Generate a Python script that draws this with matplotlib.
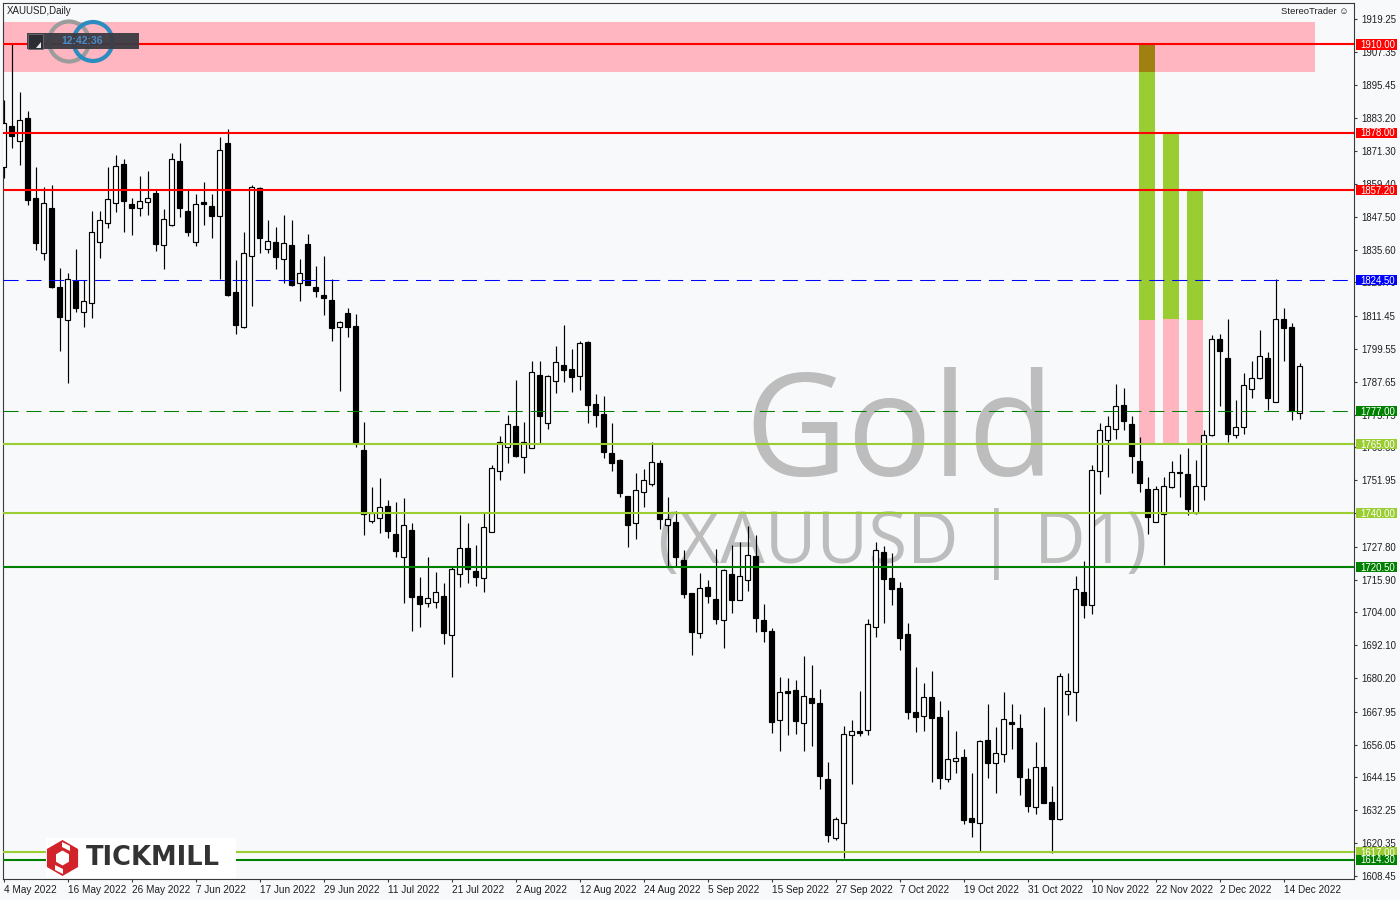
import numpy as np
import matplotlib
matplotlib.use("Agg")
import matplotlib.pyplot as plt
from matplotlib.patches import Rectangle, Circle, RegularPolygon, Polygon
from matplotlib.transforms import blended_transform_factory

plt.rcParams['font.family'] = ['Liberation Sans', 'DejaVu Sans']

# XAUUSD daily candles, 4 May 2022 .. 16 Dec 2022
opens = [1865.7, 1880.4, 1875.1, 1883.3, 1854.3, 1834.5, 1850.7, 1821.9, 1809.9, 1824.1,
         1812.8, 1816.1, 1838.5, 1845.4, 1852.4, 1866.5, 1852.0, 1850.6, 1852.7, 1856.0,
         1837.1, 1844.6, 1867.7, 1849.6, 1838.5, 1852.7, 1851.4, 1847.7, 1874.1, 1820.2,
         1807.6, 1833.3, 1857.8, 1835.7, 1838.2, 1832.1, 1837.3, 1823.4, 1837.6, 1822.0,
         1819.1, 1817.3, 1807.4, 1812.5, 1807.9, 1762.9, 1737.3, 1738.1, 1742.6, 1732.5,
         1724.2, 1733.9, 1709.9, 1707.6, 1707.7, 1709.9, 1695.7, 1717.8, 1727.3, 1719.0,
         1716.4, 1733.1, 1755.4, 1763.9, 1771.6, 1760.5, 1763.8, 1790.1, 1772.8, 1787.8,
         1793.8, 1792.3, 1789.6, 1802.1, 1779.5, 1776.0, 1761.7, 1759.3, 1746.2, 1736.3,
         1747.6, 1750.5, 1758.1, 1735.6, 1736.7, 1722.9, 1711.1, 1696.4, 1713.2, 1708.9,
         1701.4, 1718.0, 1708.4, 1715.6, 1724.5, 1701.3, 1697.3, 1664.9, 1675.4, 1675.9,
         1664.0, 1673.0, 1671.2, 1643.6, 1622.1, 1627.5, 1659.7, 1660.9, 1661.5, 1698.8,
         1725.9, 1716.4, 1712.7, 1696.1, 1667.8, 1666.3, 1673.3, 1666.1, 1643.7, 1650.0,
         1651.6, 1629.4, 1627.5, 1657.6, 1649.5, 1652.8, 1664.3, 1662.1, 1643.5, 1633.3,
         1647.8, 1635.4, 1629.2, 1674.3, 1675.0, 1711.4, 1706.6, 1755.2, 1766.5, 1770.5,
         1779.1, 1772.2, 1759.0, 1748.8, 1736.8, 1739.8, 1749.5, 1754.5, 1754.1, 1740.0,
         1749.7, 1768.3, 1803.1, 1796.2, 1768.3, 1771.2, 1784.9, 1789.2, 1796.2, 1780.2,
         1810.6, 1807.5, 1776.3]
highs = [1889.8, 1910.5, 1892.7, 1885.9, 1865.4, 1858.2, 1858.9, 1828.8, 1827.0, 1836.0,
         1824.6, 1849.6, 1849.6, 1865.4, 1869.9, 1868.4, 1854.5, 1862.2, 1864.1, 1857.2,
         1850.2, 1870.5, 1874.2, 1857.4, 1855.8, 1860.1, 1855.8, 1876.4, 1879.2, 1831.8,
         1842.0, 1859.0, 1858.4, 1846.3, 1843.8, 1848.1, 1846.3, 1832.2, 1841.2, 1829.6,
         1833.3, 1824.9, 1809.7, 1814.4, 1812.3, 1773.1, 1749.6, 1752.6, 1744.8, 1744.2,
         1745.4, 1736.6, 1717.0, 1724.0, 1718.7, 1714.6, 1720.4, 1739.3, 1736.6, 1728.5,
         1740.0, 1757.6, 1768.0, 1775.6, 1788.3, 1773.2, 1795.2, 1795.2, 1790.1, 1800.6,
         1808.3, 1799.6, 1802.3, 1802.5, 1783.1, 1782.5, 1772.6, 1759.8, 1746.2, 1754.5,
         1756.0, 1765.7, 1759.3, 1746.0, 1740.9, 1726.6, 1711.2, 1718.2, 1715.8, 1726.9,
         1719.8, 1728.5, 1729.4, 1735.4, 1732.1, 1707.1, 1698.2, 1680.6, 1680.3, 1679.5,
         1688.2, 1684.9, 1676.2, 1649.8, 1629.9, 1662.8, 1665.0, 1675.5, 1701.6, 1729.4,
         1728.1, 1725.7, 1714.9, 1700.1, 1684.2, 1678.4, 1682.9, 1672.0, 1668.6, 1661.0,
         1654.4, 1645.9, 1657.7, 1670.8, 1662.5, 1675.0, 1670.8, 1667.1, 1647.7, 1656.9,
         1669.8, 1641.0, 1681.9, 1681.9, 1717.2, 1722.6, 1757.3, 1772.6, 1775.2, 1787.0,
         1785.3, 1775.2, 1767.7, 1753.1, 1750.0, 1753.3, 1759.0, 1761.5, 1763.8, 1759.3,
         1770.3, 1804.8, 1805.0, 1810.3, 1780.9, 1790.9, 1795.1, 1806.4, 1798.5, 1824.9,
         1814.5, 1808.9, 1794.4]
lows = [1861.4, 1872.3, 1866.3, 1851.8, 1835.4, 1831.8, 1821.5, 1798.9, 1787.1, 1813.1,
        1807.4, 1810.9, 1832.4, 1843.5, 1849.3, 1842.1, 1841.0, 1847.9, 1848.3, 1835.2,
        1828.7, 1844.3, 1847.5, 1840.5, 1837.0, 1844.6, 1839.9, 1824.8, 1818.8, 1805.0,
        1807.2, 1815.1, 1834.2, 1834.5, 1828.7, 1823.6, 1822.5, 1817.1, 1822.6, 1818.5,
        1811.9, 1802.6, 1784.4, 1804.0, 1764.1, 1732.1, 1736.6, 1732.9, 1730.9, 1724.2,
        1707.3, 1697.4, 1698.9, 1705.9, 1705.5, 1692.4, 1680.7, 1713.1, 1714.8, 1713.7,
        1711.5, 1733.1, 1752.0, 1758.3, 1760.5, 1754.5, 1763.5, 1765.6, 1770.7, 1783.5,
        1787.7, 1783.8, 1784.7, 1772.8, 1771.4, 1759.9, 1755.4, 1745.8, 1727.9, 1730.8,
        1742.4, 1750.0, 1734.1, 1720.6, 1720.6, 1709.4, 1688.6, 1694.7, 1707.5, 1699.8,
        1691.2, 1703.9, 1708.4, 1711.9, 1697.0, 1693.4, 1660.4, 1653.9, 1659.7, 1659.9,
        1653.9, 1655.7, 1639.8, 1620.9, 1621.5, 1615.0, 1641.7, 1659.2, 1659.7, 1695.2,
        1700.3, 1706.8, 1690.4, 1665.5, 1660.8, 1661.1, 1642.4, 1640.1, 1642.6, 1645.9,
        1627.3, 1622.4, 1617.1, 1643.8, 1638.6, 1649.6, 1654.5, 1637.9, 1631.5, 1631.0,
        1634.8, 1616.7, 1628.8, 1666.9, 1664.7, 1702.1, 1703.5, 1746.9, 1753.1, 1766.9,
        1770.3, 1754.5, 1747.6, 1732.5, 1736.8, 1721.2, 1749.0, 1745.8, 1739.5, 1739.8,
        1744.8, 1768.0, 1778.7, 1765.9, 1767.4, 1768.7, 1781.6, 1788.8, 1777.4, 1780.2,
        1795.3, 1773.8, 1774.2]
closes = [1881.4, 1876.9, 1882.5, 1853.6, 1838.1, 1852.4, 1821.9, 1811.3, 1824.9, 1814.5,
          1816.9, 1842.1, 1846.2, 1853.8, 1866.1, 1853.3, 1850.8, 1853.1, 1854.5, 1837.7,
          1846.6, 1868.3, 1850.8, 1842.1, 1852.0, 1852.2, 1847.9, 1871.6, 1819.1, 1808.4,
          1834.2, 1858.4, 1839.9, 1838.6, 1833.0, 1837.9, 1822.7, 1827.3, 1822.9, 1820.7,
          1818.2, 1807.3, 1809.2, 1807.6, 1765.3, 1739.6, 1739.9, 1742.4, 1733.7, 1726.4,
          1735.7, 1709.7, 1707.1, 1709.1, 1711.3, 1696.7, 1719.6, 1727.3, 1719.6, 1717.0,
          1734.9, 1756.3, 1765.9, 1772.2, 1760.7, 1765.8, 1791.1, 1775.4, 1789.6, 1794.8,
          1792.1, 1789.5, 1801.8, 1779.4, 1775.7, 1762.3, 1758.3, 1747.2, 1735.8, 1748.3,
          1751.9, 1758.5, 1738.0, 1737.8, 1724.2, 1710.8, 1697.0, 1712.7, 1710.1, 1701.7,
          1719.3, 1708.6, 1717.2, 1724.7, 1702.1, 1697.4, 1664.4, 1675.0, 1674.9, 1664.7,
          1673.7, 1671.3, 1644.8, 1623.3, 1629.1, 1659.9, 1660.9, 1660.4, 1699.7, 1726.5,
          1716.3, 1712.6, 1694.9, 1668.0, 1666.0, 1673.3, 1665.8, 1644.1, 1650.7, 1651.3,
          1628.8, 1627.9, 1657.4, 1649.5, 1653.0, 1665.3, 1663.5, 1644.4, 1633.8, 1647.8,
          1635.0, 1629.2, 1680.8, 1675.4, 1712.5, 1706.6, 1755.5, 1770.1, 1771.5, 1778.7,
          1773.5, 1760.6, 1751.1, 1738.6, 1748.6, 1749.7, 1754.8, 1755.1, 1741.6, 1749.7,
          1768.3, 1803.1, 1798.8, 1768.6, 1771.2, 1786.4, 1789.2, 1797.1, 1781.6, 1810.6,
          1807.3, 1777.0, 1793.3]

date_labels = ['4 May 2022', '16 May 2022', '26 May 2022', '7 Jun 2022', '17 Jun 2022',
               '29 Jun 2022', '11 Jul 2022', '21 Jul 2022', '2 Aug 2022', '12 Aug 2022',
               '24 Aug 2022', '5 Sep 2022', '15 Sep 2022', '27 Sep 2022', '7 Oct 2022',
               '19 Oct 2022', '31 Oct 2022', '10 Nov 2022', '22 Nov 2022', '2 Dec 2022',
               '14 Dec 2022']
date_bars = [0, 8, 16, 24, 32, 40, 48, 56, 64, 72, 80, 88, 96, 104, 112, 120, 128, 136,
             144, 152, 160]

price_ticks = [1919.25, 1907.35, 1895.45, 1883.20, 1871.30, 1859.40, 1847.50, 1835.60,
               1823.70, 1811.45, 1799.55, 1787.65, 1775.75, 1763.85, 1751.95, 1740.05,
               1727.80, 1715.90, 1704.00, 1692.10, 1680.20, 1667.95, 1656.05, 1644.15,
               1632.25, 1620.35, 1608.45]

level_prices = [1910.00, 1878.00, 1857.20, 1824.50, 1777.00, 1765.00, 1740.00, 1720.50,
                1617.00, 1614.30]
level_colors = ['#ff0000', '#ff0000', '#ff0000', '#0000ff', '#008000', '#9acd32',
                '#9acd32', '#008000', '#9acd32', '#008000']
level_dashed = [False, False, False, True, True, False, False, False, False, False]

# resistance zone at the top
zone_low, zone_high, zone_end = 1900.1, 1918.1, 163.9

# target columns: start bar, target price, split price, base price
signal_start = [142, 145, 148]
signal_target = [1910.0, 1878.0, 1857.2]
signal_split = [1810.1, 1810.3, 1810.2]
signal_base = [1765.0, 1765.0, 1765.0]

BG = '#f8f9fb'
W, H = 1400, 900

fig = plt.figure(figsize=(14, 9), dpi=100)
fig.patch.set_facecolor(BG)

# background layer: watermark
bg = fig.add_axes([0, 0, 1, 1], zorder=0)
bg.set_xlim(0, W)
bg.set_ylim(H, 0)
bg.axis('off')
bg.text(900, 476, 'Gold', fontsize=102, family='Open Sans', color='#bdbdbd',
        ha='center', va='baseline')
bg.text(903, 563, '(XAUUSD | D1)', fontsize=51, family='Open Sans', color='#bdbdbd',
        ha='center', va='baseline')

# main chart
ax = fig.add_axes([3 / W, 21 / H, 1351 / W, 876 / H], zorder=1)
ax.set_facecolor('none')

o = np.array(opens)
hi = np.array(highs)
lo = np.array(lows)
c = np.array(closes)
x = np.arange(len(o))
up = c >= o
body_lo = np.minimum(o, c)
body_h = np.maximum(np.abs(c - o), 0.35)

ax.vlines(x, lo, hi, color='black', lw=0.85, zorder=3)
ax.bar(x[up], body_h[up], bottom=body_lo[up], width=0.62, facecolor='white',
       edgecolor='black', lw=0.85, zorder=4)
ax.bar(x[~up], body_h[~up], bottom=body_lo[~up], width=0.62, facecolor='black',
       edgecolor='black', lw=0.85, zorder=4)

# zone + target columns
ax.add_patch(Rectangle((-1, zone_low), zone_end + 1, zone_high - zone_low,
                       facecolor='#ffb6c1', edgecolor='none', zorder=1))
for s, t, m, b in zip(signal_start, signal_target, signal_split, signal_base):
    ax.add_patch(Rectangle((s - 0.1, m), 2.0, t - m, facecolor='#9acd32',
                           edgecolor='none', zorder=1.5))
    ax.add_patch(Rectangle((s - 0.1, b), 2.0, m - b, facecolor='#ffb6c1',
                           edgecolor='none', zorder=1.5))
    top = min(t, zone_high)
    if top > zone_low:
        ax.add_patch(Rectangle((s - 0.1, zone_low), 2.0, top - zone_low,
                               facecolor='#a08010', edgecolor='none', zorder=1.6))

# horizontal levels with price boxes on the scale
trans = blended_transform_factory(ax.transAxes, ax.transData)
for p, col, dashed in zip(level_prices, level_colors, level_dashed):
    if dashed:
        ax.axhline(p, color=col, lw=0.75, ls=(0, (14.5, 7.5)), zorder=5)
    else:
        ax.axhline(p, color=col, lw=1.5, zorder=5)
    ax.add_patch(Rectangle((1.0013, p - 1.85), 0.0305, 3.7, transform=trans,
                           facecolor=col, edgecolor='none', clip_on=False, zorder=6))
    ax.text(1.0046, p - 0.2, f'{p:.2f}', transform=trans, color='white', fontsize=6.9,
            ha='left', va='center', clip_on=False, zorder=7)

ax.set_xlim(-0.0625, 168.8)
ax.set_ylim(1607.32, 1925.05)

ax.yaxis.tick_right()
ax.set_yticks(price_ticks)
ax.set_yticklabels([f'{v:.2f}' for v in price_ticks])
ax.tick_params(axis='y', direction='out', length=2.5, width=0.8, pad=3.0,
               labelsize=6.9, colors='#3a3a3a', labelcolor='#1e1e1e')
ax.set_xticks(date_bars)
ax.set_xticklabels(date_labels)
ax.tick_params(axis='x', direction='out', length=2.5, width=0.8, pad=1.5,
               labelsize=7.2, colors='#3a3a3a', labelcolor='#1e1e1e')
for lbl in ax.get_xticklabels():
    lbl.set_ha('left')
for sp in ax.spines.values():
    sp.set_color('#3a3a3a')
    sp.set_linewidth(0.8)

# foreground overlay: title, clock widget, logos
fg = fig.add_axes([0, 0, 1, 1], zorder=3)
fg.set_xlim(0, W)
fg.set_ylim(H, 0)
fg.axis('off')

fg.text(6.5, 11, 'XAUUSD,Daily', fontsize=7, color='#202020', va='center', ha='left')
fg.text(1349, 11, 'StereoTrader \u263a', fontsize=6.8, color='#202020', va='center',
        ha='right')

fg.add_patch(Circle((69, 41.5), 20, fill=False, edgecolor='#9c9c9c', lw=3))
fg.add_patch(Circle((93, 41.5), 19.5, fill=False, edgecolor='#2b8cbf', lw=3))
fg.add_patch(Rectangle((27, 33), 112, 16, facecolor='#3b3b43', edgecolor='none',
                       alpha=0.95))
fg.add_patch(Rectangle((27.5, 33.5), 15, 15, facecolor='#2c2c33', edgecolor='#6a6a70',
                       lw=0.6))
fg.add_patch(Polygon([[41, 42], [41, 47.5], [35.5, 47.5]], closed=True,
                     facecolor='#e8e8e8', edgecolor='none'))
fg.text(82, 41, '12:42:36', fontsize=7.5, fontweight='bold', color='#4a8cc8',
        ha='center', va='center')

fg.add_patch(Rectangle((46, 838), 190, 40, facecolor='white', edgecolor='none'))
fg.add_patch(RegularPolygon((62.5, 858), 6, radius=18, orientation=0,
                            facecolor='#d2232a', edgecolor='none'))
fg.add_patch(RegularPolygon((62.5, 858), 6, radius=7.5, orientation=0,
                            facecolor='white', edgecolor='none'))
fg.add_patch(Polygon([[62, 842], [70, 846], [70, 851], [62, 847]], closed=True,
                     facecolor='white', edgecolor='none'))
fg.add_patch(Polygon([[55, 865], [63, 869], [63, 874], [55, 870]], closed=True,
                     facecolor='white', edgecolor='none'))
fg.text(86, 858, 'TICKMILL', fontsize=18.5, fontweight='bold', family='DejaVu Sans',
        color='#333333', ha='left', va='center')

fig.savefig('out.png', dpi=100, facecolor=BG)
